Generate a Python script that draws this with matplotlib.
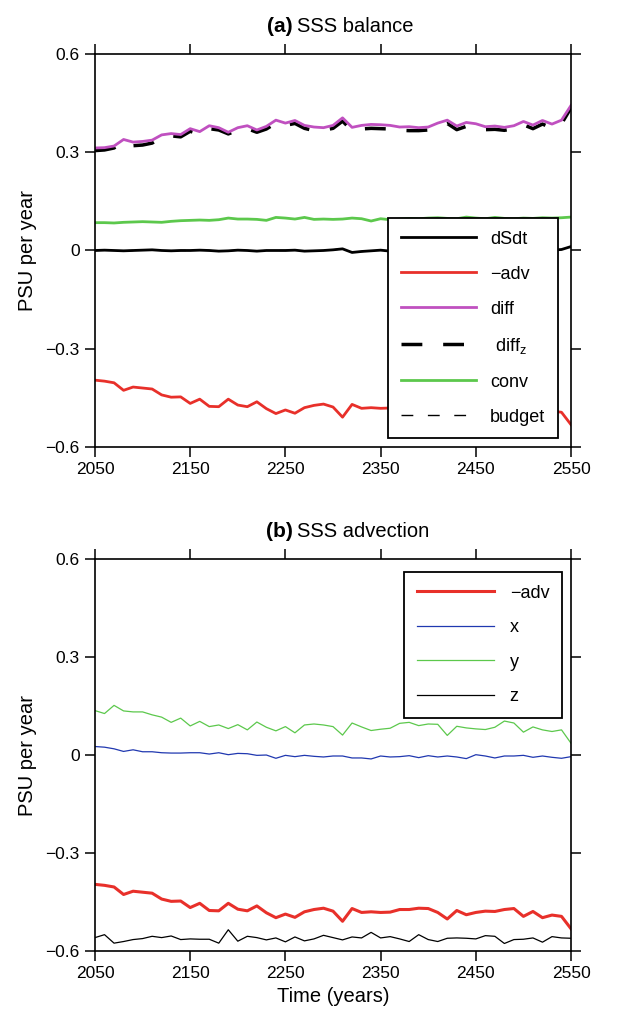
import numpy as np
import matplotlib
matplotlib.use('Agg')
import matplotlib.pyplot as plt

plt.rcParams['font.family'] = ['Liberation Sans', 'DejaVu Sans']
plt.rcParams['mathtext.fontset'] = 'custom'
plt.rcParams['mathtext.rm'] = 'Liberation Sans'

# Годы: 2050..2550, шаг 10 лет
years = np.arange(2050, 2551, 10)

# (a) баланс солёности
dSdt = [0.000, 0.001, 0.000, -0.001, 0.000, 0.001, 0.002, 0.000, -0.001, 0.000,
        0.000, 0.001, 0.000, -0.002, -0.001, 0.001, 0.000, -0.002, 0.000, 0.000,
        0.000, 0.001, -0.002, -0.001, 0.000, 0.002, 0.005, -0.006, -0.003, -0.001,
        0.001, -0.002, 0.000, 0.001, -0.001, 0.000, 0.001, 0.000, -0.001, 0.000,
        0.001, 0.000, -0.001, 0.000, 0.001, 0.000, -0.001, 0.000, 0.001, 0.003, 0.012]
adv = [-0.396, -0.399, -0.404, -0.427, -0.417, -0.420, -0.423, -0.441, -0.448, -0.447,
       -0.467, -0.454, -0.476, -0.477, -0.454, -0.472, -0.477, -0.462, -0.483, -0.498,
       -0.487, -0.497, -0.480, -0.473, -0.469, -0.478, -0.509, -0.470, -0.482, -0.480,
       -0.482, -0.481, -0.473, -0.473, -0.469, -0.470, -0.482, -0.502, -0.476, -0.489,
       -0.482, -0.478, -0.479, -0.473, -0.470, -0.494, -0.479, -0.498, -0.490, -0.494, -0.532]
diff = [0.313, 0.314, 0.319, 0.339, 0.331, 0.333, 0.337, 0.353, 0.357, 0.354,
        0.372, 0.363, 0.381, 0.375, 0.361, 0.375, 0.381, 0.368, 0.379, 0.398,
        0.389, 0.397, 0.382, 0.377, 0.375, 0.382, 0.405, 0.376, 0.382, 0.385,
        0.384, 0.382, 0.377, 0.378, 0.375, 0.377, 0.389, 0.398, 0.380, 0.391,
        0.387, 0.378, 0.380, 0.376, 0.381, 0.394, 0.383, 0.397, 0.386, 0.398, 0.443]
diff_z = [0.305, 0.307, 0.313, 0.333, 0.320, 0.322, 0.328, 0.345, 0.350, 0.347,
          0.364, 0.355, 0.372, 0.368, 0.356, 0.367, 0.372, 0.361, 0.371, 0.389,
          0.382, 0.388, 0.373, 0.366, 0.367, 0.373, 0.395, 0.366, 0.371, 0.373,
          0.372, 0.371, 0.367, 0.366, 0.366, 0.368, 0.379, 0.388, 0.369, 0.379,
          0.375, 0.369, 0.370, 0.367, 0.372, 0.384, 0.372, 0.386, 0.374, 0.387, 0.436]
conv = [0.085, 0.085, 0.084, 0.086, 0.087, 0.088, 0.087, 0.086, 0.089, 0.091,
        0.092, 0.093, 0.092, 0.094, 0.099, 0.096, 0.096, 0.095, 0.092, 0.101,
        0.099, 0.096, 0.101, 0.095, 0.096, 0.095, 0.096, 0.099, 0.097, 0.090,
        0.097, 0.094, 0.096, 0.098, 0.097, 0.099, 0.100, 0.098, 0.097, 0.102,
        0.099, 0.097, 0.101, 0.098, 0.097, 0.099, 0.098, 0.100, 0.099, 0.100, 0.102]
# budget почти совпадает с dSdt
budget = [0.000, 0.001, 0.000, -0.001, 0.000, 0.001, 0.002, 0.000, -0.001, 0.000,
          0.000, 0.001, 0.000, -0.002, -0.001, 0.001, 0.000, -0.002, 0.000, 0.000,
          0.000, 0.001, -0.002, -0.001, 0.000, 0.002, 0.005, -0.006, -0.003, -0.001,
          0.001, -0.002, 0.000, 0.001, -0.001, 0.000, 0.001, 0.000, -0.001, 0.000,
          0.001, 0.000, -0.001, 0.000, 0.001, 0.000, -0.001, 0.000, 0.001, 0.003, 0.012]

# (b) адвекция по компонентам
adv_x = [0.026, 0.024, 0.019, 0.011, 0.016, 0.010, 0.010, 0.007, 0.006, 0.006,
         0.007, 0.007, 0.003, 0.007, 0.001, 0.005, 0.004, -0.001, 0.000, -0.010,
         -0.001, -0.005, -0.001, -0.004, -0.006, -0.003, -0.003, -0.009, -0.009, -0.012,
         -0.003, -0.006, -0.005, -0.002, -0.008, -0.002, -0.006, -0.003, -0.006, -0.011,
         0.001, -0.003, -0.009, -0.003, -0.003, -0.001, -0.007, -0.003, -0.007, -0.010, -0.005]
adv_y = [0.136, 0.127, 0.152, 0.135, 0.132, 0.132, 0.123, 0.116, 0.100, 0.113,
         0.089, 0.103, 0.087, 0.092, 0.081, 0.093, 0.077, 0.101, 0.085, 0.074,
         0.087, 0.068, 0.092, 0.095, 0.092, 0.087, 0.061, 0.098, 0.086, 0.075,
         0.079, 0.082, 0.097, 0.100, 0.090, 0.095, 0.094, 0.060, 0.088, 0.083,
         0.080, 0.078, 0.085, 0.104, 0.098, 0.070, 0.086, 0.077, 0.072, 0.077, 0.036]
adv_z = [-0.559, -0.550, -0.576, -0.571, -0.565, -0.562, -0.555, -0.559, -0.554, -0.565,
         -0.563, -0.564, -0.564, -0.576, -0.535, -0.570, -0.555, -0.559, -0.566, -0.560,
         -0.572, -0.557, -0.569, -0.563, -0.552, -0.559, -0.566, -0.557, -0.560, -0.543,
         -0.560, -0.556, -0.563, -0.571, -0.550, -0.565, -0.571, -0.561, -0.560, -0.561,
         -0.563, -0.553, -0.555, -0.577, -0.565, -0.564, -0.560, -0.573, -0.556, -0.560, -0.561]

red = '#e8302a'
purple = '#c050c0'
green = '#5cc84c'
blue = '#2038b0'

yticks = [-0.6, -0.3, 0, 0.3, 0.6]
ylabels = ['\u22120.6', '\u22120.3', '0', '0.3', '0.6']

fig = plt.figure(figsize=(6.3, 10.17), dpi=100)
ax1 = fig.add_axes([0.1508, 0.5605, 0.7556, 0.3864])
ax2 = fig.add_axes([0.1508, 0.0649, 0.7556, 0.3854])


def style(ax, bold, title):
    ax.set_xlim(2050, 2550)
    ax.set_ylim(-0.6, 0.6)
    ax.set_xticks(range(2050, 2551, 100))
    ax.set_yticks(yticks)
    ax.set_yticklabels(ylabels)
    ax.tick_params(direction='out', length=7, width=1.1, labelsize=12.5,
                   top=True, right=True, labeltop=False, labelright=False, pad=4)
    for s in ax.spines.values():
        s.set_linewidth(1.2)
    ax.set_ylabel('PSU per year', fontsize=14.5, labelpad=6)
    ax.text(0.415, 1.045, bold, transform=ax.transAxes, ha='right', va='bottom',
            fontsize=15, fontweight='bold')
    ax.text(0.425, 1.045, title, transform=ax.transAxes, ha='left', va='bottom',
            fontsize=14.5)


# Панель (a)
style(ax1, '(a)', 'SSS balance')
ax1.plot(years, budget, color='black', lw=1, ls=(0, (8.5, 10.5)), label='budget', zorder=1.5)
ax1.plot(years, dSdt, color='black', lw=2, label='dSdt')
ax1.plot(years, adv, color=red, lw=2, label='\u2212adv')
ax1.plot(years, diff_z, color='black', lw=2.5, ls=(0, (6, 6)), label=' diff$_\\mathregular{z}$')
ax1.plot(years, diff, color=purple, lw=2, label='diff')
ax1.plot(years, conv, color=green, lw=2, label='conv')
h, l = ax1.get_legend_handles_labels()
order = [1, 2, 4, 3, 5, 0]
leg1 = ax1.legend([h[i] for i in order], [l[i] for i in order],
                  loc='upper right', bbox_to_anchor=(0.9727, 0.583), fontsize=13,
                  handlelength=4.15, labelspacing=1.0, handletextpad=0.8,
                  borderpad=0.7, borderaxespad=0, fancybox=False, framealpha=1,
                  edgecolor='black')
leg1.get_frame().set_linewidth(1.3)

# Панель (b)
style(ax2, '(b)', 'SSS advection')
ax2.plot(years, adv, color=red, lw=2.2, label='\u2212adv')
ax2.plot(years, adv_x, color=blue, lw=0.9, label='x')
ax2.plot(years, adv_y, color=green, lw=0.9, label='y')
ax2.plot(years, adv_z, color='black', lw=0.9, label='z')
leg2 = ax2.legend(loc='upper right', bbox_to_anchor=(0.981, 0.967), fontsize=13,
                  handlelength=4.3, labelspacing=0.97, handletextpad=0.85,
                  borderpad=0.7, borderaxespad=0, fancybox=False, framealpha=1,
                  edgecolor='black')
leg2.get_frame().set_linewidth(1.3)
ax2.set_xlabel('Time (years)', fontsize=14.5)

fig.savefig('out.png', dpi=100)
